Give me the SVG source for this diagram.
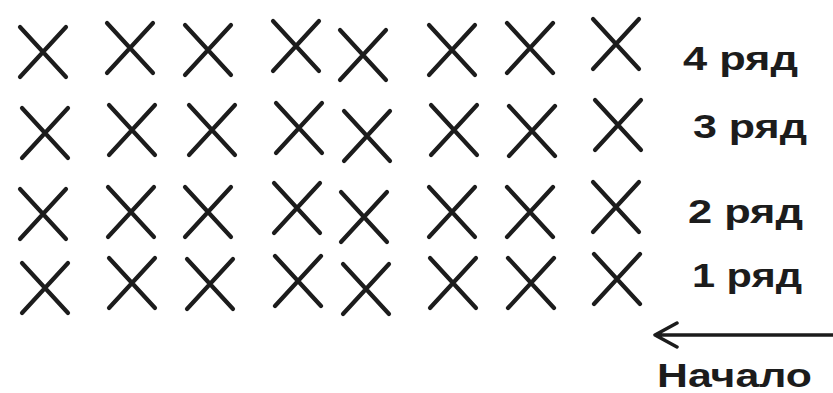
<svg xmlns="http://www.w3.org/2000/svg" width="833" height="393" viewBox="0 0 833 393">
<style>
.x{fill:none;stroke:#1c1c1c;stroke-width:4.2;stroke-linecap:round}
.t{font-family:"Liberation Sans",Arial,sans-serif;font-weight:bold;font-size:34px;fill:#1c1c1c}
.c{fill:none;stroke:#1c1c1c;stroke-width:3.5;stroke-linecap:round;stroke-linejoin:round}
</style>
<defs>
<path id="cross" class="x" d="M-23,-25 L23,25 M23,-25 L-23,25"/>
</defs>
<rect width="833" height="393" fill="#fff"/>
<g id="row4">
<use href="#cross" x="43" y="52"/><use href="#cross" x="130" y="48"/><use href="#cross" x="208" y="50"/><use href="#cross" x="296" y="46"/>
<use href="#cross" x="363" y="55"/><use href="#cross" x="452" y="50"/><use href="#cross" x="530" y="48"/><use href="#cross" x="616" y="44"/>
<text class="t" x="683" y="70" textLength="115" lengthAdjust="spacingAndGlyphs">4 ряд</text>
</g>
<g id="row3">
<use href="#cross" x="45" y="133"/><use href="#cross" x="132" y="130"/><use href="#cross" x="212" y="130"/><use href="#cross" x="299" y="128"/>
<use href="#cross" x="367" y="136"/><use href="#cross" x="454" y="130"/><use href="#cross" x="532" y="131"/><use href="#cross" x="618" y="125"/>
<text class="t" x="693" y="138" textLength="114" lengthAdjust="spacingAndGlyphs">3 ряд</text>
</g>
<g id="row2">
<use href="#cross" x="43" y="214"/><use href="#cross" x="131" y="212"/><use href="#cross" x="208" y="212"/><use href="#cross" x="297" y="208"/>
<use href="#cross" x="364" y="217"/><use href="#cross" x="452" y="212"/><use href="#cross" x="530" y="212"/><use href="#cross" x="616" y="207"/>
<text class="t" x="688" y="223" textLength="115" lengthAdjust="spacingAndGlyphs">2 ряд</text>
</g>
<g id="row1">
<use href="#cross" x="45" y="288"/><use href="#cross" x="132" y="283"/><use href="#cross" x="210" y="284"/><use href="#cross" x="298" y="281"/>
<use href="#cross" x="366" y="289"/><use href="#cross" x="453" y="283"/><use href="#cross" x="531" y="283"/><use href="#cross" x="617" y="279"/>
<text class="t" x="692" y="287" textLength="110" lengthAdjust="spacingAndGlyphs">1 ряд</text>
</g>
<g id="connectors">
<path class="c" d="M833,335 L655,335 M677,323 L655,335 L677,347"/>
</g>
<g id="start">
<text class="t" x="657" y="387" font-size="35" textLength="155" lengthAdjust="spacingAndGlyphs">Начало</text>
</g>
</svg>
